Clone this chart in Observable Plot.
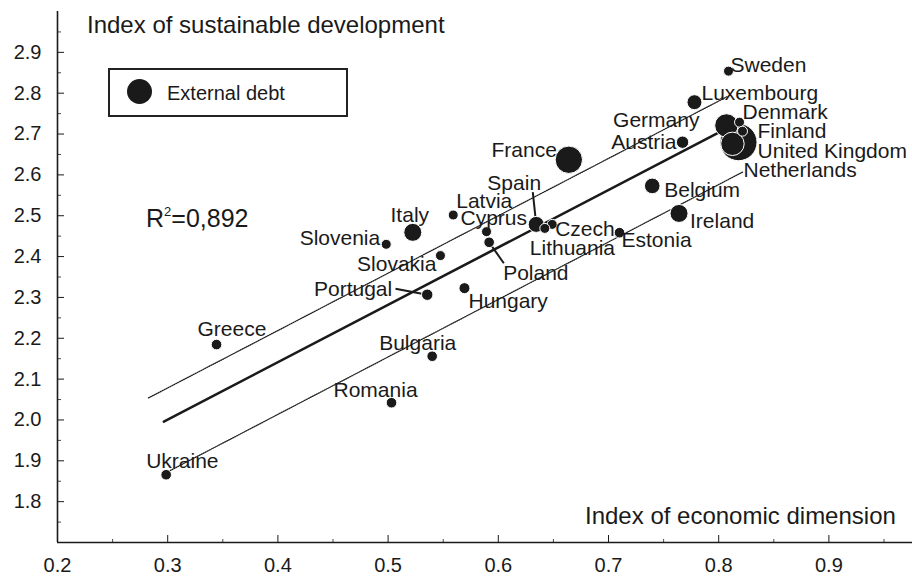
<!DOCTYPE html>
<html>
<head>
<meta charset="utf-8">
<script src="https://cdn.jsdelivr.net/npm/d3@7"></script>
<script src="https://cdn.jsdelivr.net/npm/@observablehq/plot@0.6"></script>
<style>
  html, body { margin: 0; padding: 0; background: #fff; }
  #wrap { position: relative; width: 912px; height: 578px; font-family: "Liberation Sans", Arial, Helvetica, sans-serif; color: #1a1a1a; }
  #wrap svg { position: absolute; left: 0; top: 0; }
  .ov { position: absolute; white-space: nowrap; line-height: 1; }
  #ytitle { left: 87px; top: 13px; font-size: 24px; }
  #xtitle { left: 585px; top: 504px; font-size: 24px; }
  #legend { left: 108px; top: 68px; width: 236px; height: 45px; border: 2px solid #222; }
  #legend .sym { position: absolute; left: 17px; top: 9px; width: 25px; height: 25px; border-radius: 50%; background: #1a1a1a; }
  #legend .lab { position: absolute; left: 57px; top: 13px; font-size: 20px; }
  #r2 { left: 146px; top: 206px; font-size: 25px; }
  #r2 sup { font-size: 13px; vertical-align: 0; position: relative; top: -11px; }
</style>
</head>
<body>
<div id="wrap">
  <div class="ov" id="ytitle">Index of sustainable development</div>
  <div class="ov" id="xtitle">Index of economic dimension</div>
  <div class="ov" id="legend"><div class="sym"></div><div class="lab">External debt</div></div>
  <div class="ov" id="r2">R<sup>2</sup>=0,892</div>
</div>
<script>
// ---- data ----
const countries = ["United Kingdom","France","Germany","Netherlands","Ireland","Italy","Spain","Belgium","Luxembourg","Austria","Portugal","Hungary","Greece","Poland","Estonia","Bulgaria","Romania","Ukraine","Sweden","Denmark","Finland","Czech","Lithuania","Latvia","Cyprus","Slovenia","Slovakia"];
const econIndex = [0.818,0.664,0.807,0.8125,0.764,0.5224,0.6344,0.7397,0.778,0.7672,0.5355,0.5693,0.3443,0.5917,0.710,0.540,0.5031,0.2986,0.8089,0.8189,0.8216,0.6489,0.6422,0.5591,0.5893,0.4983,0.5475];
const sustIndex = [2.680,2.637,2.721,2.676,2.5056,2.4593,2.4788,2.573,2.778,2.680,2.3066,2.3227,2.1846,2.4349,2.4585,2.156,2.0422,1.8659,2.854,2.729,2.707,2.4788,2.469,2.5017,2.461,2.430,2.4024];
const extDebt = [9000,4000,2540,2540,1070,1070,690,620,520,207,124,96,72,72,72,72,72,72,43,43,43,43,43,43,43,43,43];

const xTicks = [0.2,0.3,0.4,0.5,0.6,0.7,0.8,0.9];
const xMinorTicks = [0.25,0.35,0.45,0.55,0.65,0.75,0.85,0.95];
const yTicks = [1.8,1.9,2.0,2.1,2.2,2.3,2.4,2.5,2.6,2.7,2.8,2.9];
const yMinorTicks = [1.75,1.85,1.95,2.05,2.15,2.25,2.35,2.45,2.55,2.65,2.75,2.85,2.95];

// regression line and band end points
const fitX = [0.2965, 0.8025], fitY = [1.996, 2.707];
const upperX = [0.2826, 0.808], upperY = [2.054, 2.792];
const lowerX = [0.2986, 0.8225], lowerY = [1.871, 2.608];

// leader lines (label end)
const leaderCountries = ["Spain","Poland","Portugal"];
const leaderEndX = [0.6313, 0.605, 0.5067];
const leaderEndY = [2.5578, 2.3837, 2.3212];

// ---- label layout (anchor, dx, dy in px) ----
const labelLayout = {
  "Sweden": ["start", 2, -6], "Luxembourg": ["start", 7, -9], "Germany": ["end", -27, -5],
  "Denmark": ["start", 3, -10], "Finland": ["start", 15, 0], "United Kingdom": ["start", 19, 9],
  "Netherlands": ["start", 11, 26], "Austria": ["end", -6, 0], "France": ["end", -12, -10],
  "Belgium": ["start", 12, 4], "Ireland": ["start", 11, 8], "Estonia": ["start", 2, 8],
  "Spain": ["middle", -22, -41], "Latvia": ["start", 3, -14], "Cyprus": ["start", -26, -13],
  "Czech": ["start", 3, 5], "Lithuania": ["start", -15, 20], "Poland": ["start", 14, 31],
  "Italy": ["middle", -3, -17], "Slovenia": ["end", -6, -6], "Slovakia": ["end", -4, 9],
  "Portugal": ["end", -35, -5], "Hungary": ["start", 4, 13], "Greece": ["start", -19, -15],
  "Bulgaria": ["start", -53, -13], "Romania": ["start", -58, -12], "Ukraine": ["start", -20, -13]
};

const rows = countries.map((name, i) => ({name, x: econIndex[i], y: sustIndex[i], debt: extDebt[i]}));
const byName = new Map(rows.map(d => [d.name, d]));
const leaders = leaderCountries.map((n, i) => ({x1: byName.get(n).x, y1: byName.get(n).y, x2: leaderEndX[i], y2: leaderEndY[i]}));

const W = 912, H = 578, mL = 57, mR = 0, mT = 11, mB = 36;
const frameW = W - mL - mR, frameH = H - mT - mB;
const ink = "#1a1a1a";

const labelMarks = rows.map(d => {
  const [anchor, dx, dy] = labelLayout[d.name];
  return Plot.text([d], {x: "x", y: "y", text: "name", textAnchor: anchor, dx, dy, fontSize: 21, fill: ink});
});

const chart = Plot.plot({
  width: W, height: H,
  marginLeft: mL, marginRight: mR, marginTop: mT, marginBottom: mB,
  style: {fontFamily: "'Liberation Sans', Arial, Helvetica, sans-serif", background: "transparent", color: ink, overflow: "visible"},
  x: {domain: [0.2, 0.2 + frameW / 1102]},
  y: {domain: [1.7, 3.0]},
  r: {type: "sqrt", domain: [0, 9000], range: [4, 18.5]},
  marks: [
    // axes
    Plot.ruleX([0.2], {stroke: ink, strokeWidth: 1.6}),
    Plot.ruleY([1.7], {stroke: ink, strokeWidth: 1.6}),
    Plot.tickX(xTicks, {x: d => d, stroke: ink, strokeWidth: 1, insetTop: frameH - 7}),
    Plot.tickX(xMinorTicks, {x: d => d, stroke: ink, strokeWidth: 0.8, insetTop: frameH - 3}),
    Plot.tickY(yTicks, {y: d => d, stroke: ink, strokeWidth: 1, insetRight: frameW - 7}),
    Plot.tickY(yMinorTicks, {y: d => d, stroke: ink, strokeWidth: 0.8, insetRight: frameW - 4}),
    Plot.axisX(xTicks, {tickSize: 0, tickPadding: 15, tickFormat: d => d.toFixed(1), fontSize: 20, fill: ink}),
    Plot.axisY(yTicks, {tickSize: 0, tickPadding: 16, tickFormat: d => d.toFixed(1), fontSize: 20, fill: ink}),
    // fit and bands
    Plot.line(upperX.map((x, i) => [x, upperY[i]]), {x: "0", y: "1", stroke: "#222", strokeWidth: 1.3, strokeDasharray: "1,1.2"}),
    Plot.line(lowerX.map((x, i) => [x, lowerY[i]]), {x: "0", y: "1", stroke: "#222", strokeWidth: 1.3, strokeDasharray: "1,1.2"}),
    Plot.line(fitX.map((x, i) => [x, fitY[i]]), {x: "0", y: "1", stroke: ink, strokeWidth: 2.6}),
    // leaders
    Plot.link(leaders, {x1: "x1", y1: "y1", x2: "x2", y2: "y2", stroke: ink, strokeWidth: 2}),
    // bubbles
    Plot.dot(rows, {x: "x", y: "y", r: "debt", fill: ink, stroke: "white", strokeWidth: 1, sort: {channel: "r", order: "descending"}}),
    ...labelMarks
  ]
});

document.getElementById("wrap").prepend(chart);
</script>
</body>
</html>
